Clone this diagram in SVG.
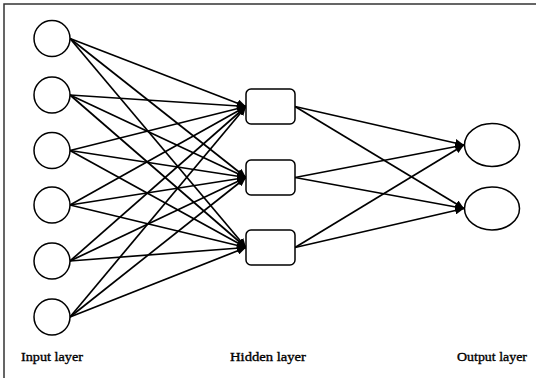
<svg xmlns="http://www.w3.org/2000/svg" width="536" height="378" viewBox="0 0 536 378">
<style>
.n{fill:#fff;stroke:#000;stroke-width:1.5}
.c line{stroke:#000;stroke-width:1.7;marker-end:url(#ah)}
.t{font-family:"Liberation Serif","Times New Roman",serif;font-size:13px;fill:#000;stroke:#000;stroke-width:0.35}
</style>
<defs>
<marker id="ah" markerUnits="userSpaceOnUse" markerWidth="10" markerHeight="8" refX="9" refY="4" orient="auto">
<path d="M0,0 L9,4 L0,8 Z" fill="#000"/>
</marker>
</defs>
<rect width="536" height="378" fill="#fff"/>
<path d="M4,378 V4 H536" fill="none" stroke="#333" stroke-width="1.5"/>
<g class="c" id="connectors">
<line x1="70" y1="38.5" x2="246" y2="106.5"/><line x1="70" y1="38.5" x2="246" y2="177.5"/><line x1="70" y1="38.5" x2="246" y2="247.5"/>
<line x1="70" y1="95" x2="246" y2="106.5"/><line x1="70" y1="95" x2="246" y2="177.5"/><line x1="70" y1="95" x2="246" y2="247.5"/>
<line x1="70" y1="150.5" x2="246" y2="106.5"/><line x1="70" y1="150.5" x2="246" y2="177.5"/><line x1="70" y1="150.5" x2="246" y2="247.5"/>
<line x1="70" y1="205" x2="246" y2="106.5"/><line x1="70" y1="205" x2="246" y2="177.5"/><line x1="70" y1="205" x2="246" y2="247.5"/>
<line x1="70" y1="261" x2="246" y2="106.5"/><line x1="70" y1="261" x2="246" y2="177.5"/><line x1="70" y1="261" x2="246" y2="247.5"/>
<line x1="70" y1="317" x2="246" y2="106.5"/><line x1="70" y1="317" x2="246" y2="177.5"/><line x1="70" y1="317" x2="246" y2="247.5"/>
<line x1="295" y1="106.5" x2="464" y2="145"/><line x1="295" y1="106.5" x2="464" y2="208.5"/>
<line x1="295" y1="177.5" x2="464" y2="145"/><line x1="295" y1="177.5" x2="464" y2="208.5"/>
<line x1="295" y1="247.5" x2="464" y2="145"/><line x1="295" y1="247.5" x2="464" y2="208.5"/>
</g>
<g id="in1"><circle class="n" cx="52" cy="38.5" r="18"/></g>
<g id="in2"><circle class="n" cx="52" cy="95" r="18"/></g>
<g id="in3"><circle class="n" cx="52" cy="150.5" r="18"/></g>
<g id="in4"><circle class="n" cx="52" cy="205" r="18"/></g>
<g id="in5"><circle class="n" cx="52" cy="261" r="18"/></g>
<g id="in6"><circle class="n" cx="52" cy="317" r="18"/></g>
<g id="h1"><rect class="n" x="246" y="89" width="49" height="35" rx="5"/></g>
<g id="h2"><rect class="n" x="246" y="160" width="49" height="35" rx="5"/></g>
<g id="h3"><rect class="n" x="246" y="230" width="49" height="35" rx="5"/></g>
<g id="o1"><ellipse class="n" cx="492" cy="145" rx="27.5" ry="21.5"/></g>
<g id="o2"><ellipse class="n" cx="492" cy="208.5" rx="27.5" ry="21.5"/></g>
<g id="labels">
<text class="t" x="21" y="360.5" textLength="62" lengthAdjust="spacingAndGlyphs">Input layer</text>
<text class="t" x="230" y="360.5" textLength="76" lengthAdjust="spacingAndGlyphs">Hidden layer</text>
<text class="t" x="457" y="360.5" textLength="70" lengthAdjust="spacingAndGlyphs">Output layer</text>
</g>
</svg>
